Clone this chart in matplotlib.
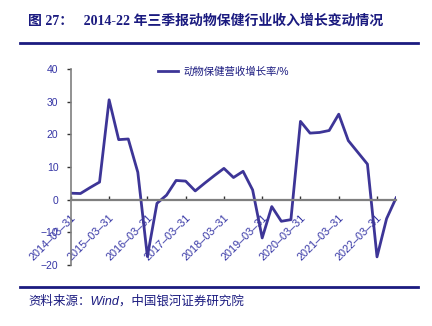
import pandas as pd
import matplotlib.pyplot as plt
from matplotlib.lines import Line2D

plt.rcParams['font.family'] = ['Liberation Sans', 'Noto Sans CJK SC']
plt.rcParams['axes.unicode_minus'] = True

# 动物保健营收增长率（季度，%）
quarters = pd.date_range('2014-03-31', '2022-09-30', freq='QE')
growth = [2.0, 1.9, 3.7, 5.4, 30.6, 18.4, 18.6, 8.4, -17.4, -1.1,
          1.4, 5.9, 5.7, 2.7, 5.1, 7.4, 9.6, 6.8, 8.7, 3.0,
          -11.7, -2.1, -6.6, -6.1, 24.0, 20.4, 20.6, 21.2, 26.2, 18.1,
          14.5, 10.9, -17.5, -5.8, 0.6]
yticks = [-20, -10, 0, 10, 20, 30, 40]
series_name = '动物保健营收增长率/%'
title = '图 27：   2014-22 年三季报动物保健行业收入增长变动情况'
source = '资料来源：Wind，中国银河证券研究院'

navy = '#1b1b80'
line_c = '#3d3597'
label_c = '#3535a5'
axis_c = '#7f7f7f'

fig = plt.figure(figsize=(4.32, 3.26), dpi=100)
ax = fig.add_axes([0.164, 0.187, 0.753, 0.601])

# spine position first: moving it resets the tick labels
for s in ['top', 'right']:
    ax.spines[s].set_visible(False)
ax.spines['bottom'].set_position(('data', 0))
ax.spines['bottom'].set_color(axis_c)
ax.spines['bottom'].set_linewidth(1.6)
ax.spines['left'].set_color(axis_c)
ax.spines['left'].set_linewidth(1.2)

x = list(range(len(quarters)))
ax.plot(x, growth, color=line_c, lw=2.0, label=series_name)

ax.set_xlim(0, len(quarters) - 1)
ax.set_ylim(-20, 40)
ax.set_yticks(yticks)
ax.set_yticklabels([f'{v}' if v >= 0 else f'\u2212{-v}' for v in yticks])

tick_pos = [i for i, q in enumerate(quarters) if q.month == 3]
ax.set_xticks(tick_pos)
ax.set_xticklabels([quarters[i].strftime('%Y\u2013%m\u2013%d') for i in tick_pos])

ax.tick_params(axis='x', direction='in', length=3, width=1, color='#333333',
               labelsize=7.8, labelcolor=label_c, pad=9, labelrotation=45)
ax.tick_params(axis='y', direction='out', length=3, width=1, color='#333333',
               labelsize=7.5, labelcolor=label_c, pad=6)
for lab in ax.get_xticklabels():
    lab.set_ha('right')
    lab.set_va('top')
    lab.set_rotation_mode('anchor')

ax.legend(loc='upper right', bbox_to_anchor=(0.70, 1.06), frameon=False,
          fontsize=7.5, labelcolor=navy, handlelength=2.0, handletextpad=0.5)

fig.text(0.065, 0.935, title, fontsize=10, fontweight='bold', color=navy,
         family=['Liberation Serif', 'Noto Sans CJK SC'], va='center')
fig.add_artist(Line2D([0.046, 0.968], [0.868, 0.868], color=navy, lw=2))
fig.add_artist(Line2D([0.046, 0.968], [0.120, 0.120], color=navy, lw=2))
fig.text(0.065, 0.074, source, fontsize=9, style='italic', color=navy, va='center')

fig.savefig('out.png', dpi=100)
